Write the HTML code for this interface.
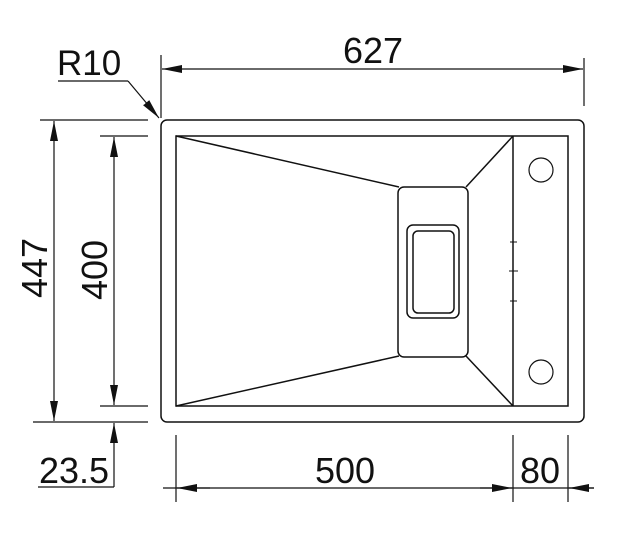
<!DOCTYPE html>
<html><head><style>body{margin:0;background:#fff}svg{display:block}</style></head><body>
<svg width="628" height="538" viewBox="0 0 628 538" xmlns="http://www.w3.org/2000/svg">
<defs>
<marker id="a" viewBox="0 0 20 8" refX="20" refY="4" markerWidth="20" markerHeight="8" markerUnits="userSpaceOnUse" orient="auto"><path d="M0,0L20,4L0,8z" fill="#111"/></marker>
</defs>
<g fill="none" stroke="#111" stroke-width="1.5">
<rect x="161" y="120" width="423" height="302" rx="6"/>
<rect x="176" y="136" width="392" height="270"/>
<line x1="513" y1="136" x2="513" y2="406"/>
<line x1="176" y1="136" x2="399" y2="187"/>
<line x1="176" y1="406" x2="399" y2="356"/>
<line x1="466" y1="187" x2="513" y2="136"/>
<line x1="466" y1="356" x2="513" y2="406"/>
<rect x="398" y="187" width="70" height="170" rx="6"/>
<rect x="407" y="225" width="52" height="93" rx="6"/>
<rect x="413" y="231" width="41" height="82" rx="5"/>
<circle cx="541" cy="170" r="12" stroke-width="1.2"/>
<circle cx="541" cy="372" r="12" stroke-width="1.2"/>
<g stroke-width="1"><line x1="510" y1="242" x2="517" y2="242"/><line x1="509" y1="271" x2="518" y2="271"/><line x1="510" y1="301" x2="517" y2="301"/></g>
</g>
<g stroke="#111" stroke-width="1.2" fill="none">
<line x1="161" y1="55" x2="161" y2="118"/>
<line x1="584" y1="58" x2="584" y2="106"/>
<line x1="200" y1="69" x2="162" y2="69" marker-end="url(#a)"/>
<line x1="550" y1="69" x2="583" y2="69" marker-end="url(#a)"/>
<line x1="200" y1="69" x2="550" y2="69"/>
<polyline points="58,81 128,81"/>
<line x1="128" y1="81" x2="159" y2="118" marker-end="url(#a)"/>
<line x1="40" y1="120" x2="148" y2="120"/>
<line x1="33" y1="422" x2="148" y2="422"/>
<line x1="100" y1="136" x2="148" y2="136"/>
<line x1="100" y1="406" x2="148" y2="406"/>
<line x1="54" y1="270" x2="54" y2="121" marker-end="url(#a)"/>
<line x1="54" y1="270" x2="54" y2="421" marker-end="url(#a)"/>
<line x1="114" y1="270" x2="114" y2="137" marker-end="url(#a)"/>
<line x1="114" y1="270" x2="114" y2="405" marker-end="url(#a)"/>
<line x1="114" y1="487" x2="114" y2="423" marker-end="url(#a)"/>
<line x1="38" y1="487" x2="114" y2="487"/>
<line x1="176" y1="435" x2="176" y2="502"/>
<line x1="513" y1="435" x2="513" y2="502"/>
<line x1="568" y1="435" x2="568" y2="502"/>
<line x1="163" y1="488" x2="594" y2="488"/>
<line x1="210" y1="488" x2="177" y2="488" marker-end="url(#a)"/>
<line x1="480" y1="488" x2="512" y2="488" marker-end="url(#a)"/>
<line x1="594" y1="488" x2="569" y2="488" marker-end="url(#a)"/>
</g>
<g font-family="Liberation Sans, sans-serif" font-size="36" fill="#111">
<text x="373" y="63" text-anchor="middle">627</text>
<text x="57" y="75" font-size="35">R10</text>
<text transform="translate(47,268) rotate(-90)" text-anchor="middle">447</text>
<text transform="translate(107,270) rotate(-90)" text-anchor="middle">400</text>
<text x="74" y="483" text-anchor="middle">23.5</text>
<text x="345" y="483" text-anchor="middle">500</text>
<text x="540" y="483" text-anchor="middle">80</text>
</g>
</svg>
</body></html>
